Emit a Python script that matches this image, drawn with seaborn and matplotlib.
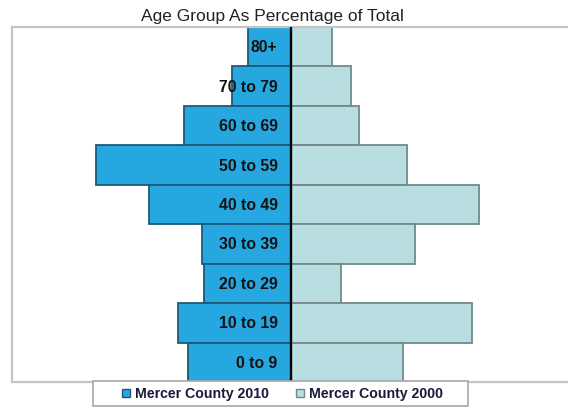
import matplotlib
matplotlib.use("Agg")
import matplotlib.pyplot as plt
import pandas as pd
import seaborn as sns
from matplotlib.lines import Line2D
from matplotlib.patches import Rectangle

# Age groups, listed top to bottom of the pyramid
age_groups = ["80+", "70 to 79", "60 to 69", "50 to 59", "40 to 49",
              "30 to 39", "20 to 29", "10 to 19", "0 to 9"]
# Share of total population (%)
pct_2010 = [4.6, 6.3, 11.5, 20.9, 15.2, 9.5, 9.3, 12.1, 11.0]
pct_2000 = [4.5, 6.5, 7.4, 12.6, 20.3, 13.4, 5.4, 19.6, 12.1]
series = ["Mercer County 2010", "Mercer County 2000"]

fill_colors = ["#27a7e0", "#b8dee2"]
edge_colors = ["#1d5a78", "#72898b"]

sns.set_theme(style="white")
plt.rcParams["font.family"] = ["Liberation Sans", "DejaVu Sans"]

# 2010 values go to the left of the centre line
df = pd.DataFrame({
    "age": age_groups * 2,
    "pct": [-v for v in pct_2010] + list(pct_2000),
    "series": [series[0]] * len(age_groups) + [series[1]] * len(age_groups),
})

W, H = 568, 410
fig = plt.figure(figsize=(W / 100, H / 100), dpi=100)
ax = fig.add_axes([12 / W, 27 / H, 557 / W, 355 / H])

sns.barplot(data=df, x="pct", y="age", hue="series", order=age_groups,
            hue_order=series, palette=fill_colors, dodge=False, width=1.0,
            orient="h", saturation=1, legend=False, ax=ax, linewidth=1.3)

for container, ec in zip(ax.containers, edge_colors):
    for bar in container:
        bar.set_edgecolor(ec)

ax.axvline(0, color="black", lw=1.7, zorder=5)

ax.set_xlim(-30, 30)
ax.set_ylim(len(age_groups) - 0.5, -0.5)
ax.set_xticks([])
ax.set_yticks([])
ax.set_xlabel("")
ax.set_ylabel("")
for name, sp in ax.spines.items():
    sp.set_color("#c4c4c4")
    sp.set_linewidth(1.6)
ax.spines["right"].set_visible(False)

# Age group names inside the 2010 bars, next to the centre line
for i, label in enumerate(age_groups):
    ax.text(-1.4, i, label, ha="right", va="center", fontsize=11.3,
            fontweight="bold", color="#111111", zorder=6)

fig.text(272.5 / W, 1 - 20.5 / H, "Age Group As Percentage of Total",
         ha="center", va="baseline", fontsize=12.5, color="#222222")

# Legend box with a little extra side padding
fig.patches.append(Rectangle((93 / W, 1 - 407 / H), 375 / W, 25 / H,
                             transform=fig.transFigure, facecolor="white",
                             edgecolor="#a8a8a8", linewidth=1.2, zorder=3))

handles = [Line2D([], [], linestyle="none", marker="s", markersize=5.5,
                  markerfacecolor=fc, markeredgecolor=ec, markeredgewidth=1.0)
           for fc, ec in zip(fill_colors, edge_colors)]
leg = fig.legend(handles, series, loc="center",
                 bbox_to_anchor=(282 / W, 1 - 394.5 / H), ncol=2,
                 frameon=False, prop={"weight": "bold", "size": 10.2},
                 handlelength=0.7, handletextpad=0.25, columnspacing=1.9,
                 borderpad=0.2, borderaxespad=0)
leg.set_zorder(4)
for t in leg.get_texts():
    t.set_color("#1a1a3a")

fig.savefig("out.png", dpi=100)
